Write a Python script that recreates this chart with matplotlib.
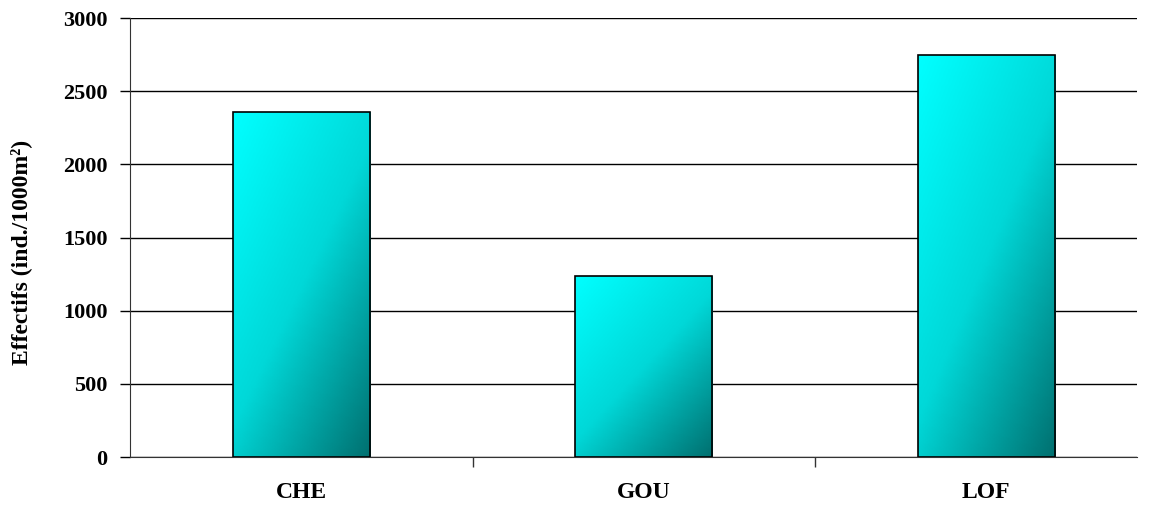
import numpy as np
import matplotlib.pyplot as plt
from matplotlib.colors import LinearSegmentedColormap

sites = ['CHE', 'GOU', 'LOF']
effectifs = [2355, 1240, 2745]

plt.rcParams['font.family'] = ['Liberation Serif', 'DejaVu Serif']
plt.rcParams['font.weight'] = 'bold'

fig = plt.figure(figsize=(11.49, 5.12), dpi=100)
ax = fig.add_axes([0.1131, 0.1074, 0.8765, 0.8574])

cmap = LinearSegmentedColormap.from_list('teal', ['#00ffff', '#00d8d8', '#007070'])
width = 0.40
xx, yy = np.meshgrid(np.linspace(0, 1, 60), np.linspace(0, 1, 120))
grad = 0.45 * xx + 0.55 * yy

for i, v in enumerate(effectifs):
    x0 = i - width / 2
    im = ax.imshow(grad, cmap=cmap, vmin=0, vmax=1, aspect='auto',
                   extent=[x0, x0 + width, 0, v], origin='upper', zorder=3)
    rect = plt.Rectangle((x0, 0), width, v, facecolor='none',
                         edgecolor='black', linewidth=1.2, zorder=4)
    ax.add_patch(rect)
    im.set_clip_path(rect)

ax.set_xlim(-0.5, 2.44)
ax.set_ylim(0, 3000)
ax.set_yticks(np.arange(0, 3001, 500))
ax.set_yticklabels([str(t) for t in range(0, 3001, 500)], fontsize=16, fontweight='bold')
ax.yaxis.grid(True, color='black', linewidth=1)
ax.set_axisbelow(True)

ax.set_xticks([0.5, 1.5])
ax.set_xticklabels([])
ax.set_xticks([0, 1, 2], minor=True)
ax.set_xticklabels(sites, minor=True, fontsize=17, fontweight='bold')
ax.tick_params(axis='x', which='minor', length=0, pad=18)
ax.tick_params(axis='x', which='major', length=7, width=1, color='#333333')
ax.tick_params(axis='y', length=7, width=1, pad=9)

for s in ['top', 'right']:
    ax.spines[s].set_visible(False)
ax.spines['left'].set_color('#333333')
ax.spines['bottom'].set_color('#333333')

ax.set_ylabel('Effectifs (ind./1000m²)', fontsize=17, fontweight='bold')
ax.yaxis.set_label_coords(-0.097, 0.465)

plt.savefig('out.png', dpi=100)
